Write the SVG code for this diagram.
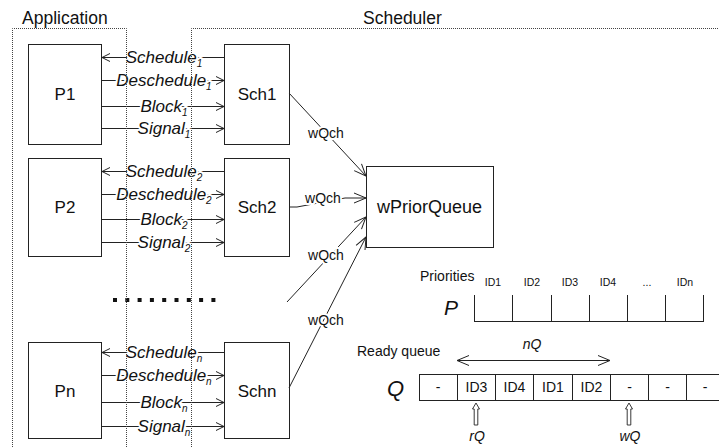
<svg xmlns="http://www.w3.org/2000/svg" width="719" height="448" viewBox="0 0 719 448">
<style>
text{font-family:"Liberation Sans",Arial,sans-serif;fill:#111}
.box{fill:#fff;stroke:#222;stroke-width:1}
.dot{fill:none;stroke:#444;stroke-width:1;stroke-dasharray:1 1}
.ln{fill:none;stroke:#222;stroke-width:1}
.sa{marker-end:url(#a)}
.la{marker-end:url(#b)}
.lbl{font-size:17px;font-style:italic;text-anchor:middle;stroke:#fff;stroke-width:4;paint-order:stroke;stroke-linejoin:round}
.sub{font-size:10px}
.wq{font-size:14px;text-anchor:middle;stroke:#fff;stroke-width:4;paint-order:stroke;stroke-linejoin:round}
.nd{font-size:17px;text-anchor:middle}
.cell{font-size:14px;text-anchor:middle}
.id{font-size:10.5px;text-anchor:middle}
.it{font-style:italic}
</style>
<defs>
<marker id="a" markerUnits="userSpaceOnUse" markerWidth="10" markerHeight="10" refX="8" refY="4" orient="auto-start-reverse" viewBox="-1 -1 10 10"><path d="M0,0 L8,4 L0,8" fill="none" stroke="#222" stroke-width="1"/></marker>
<marker id="b" markerUnits="userSpaceOnUse" markerWidth="14" markerHeight="14" refX="12" refY="5" orient="auto-start-reverse" viewBox="-1 -1 14 12"><path d="M0,0 L12,5 L0,10" fill="none" stroke="#222" stroke-width="1"/></marker>
</defs>
<rect width="719" height="448" fill="#fff"/>

<g id="titles">
<text x="22" y="24" font-size="17.5">Application</text>
<text x="363" y="24" font-size="17.5">Scheduler</text>
</g>

<g id="P1"><rect class="box" x="28.5" y="44.5" width="73" height="100"/><text class="nd" x="65" y="100">P1</text></g>
<g id="Sch1"><rect class="box" x="224.5" y="44.5" width="65" height="100"/><text class="nd" x="257" y="100">Sch1</text></g>
<g id="P2"><rect class="box" x="28.5" y="158.5" width="73" height="98"/><text class="nd" x="65" y="213">P2</text></g>
<g id="Sch2"><rect class="box" x="224.5" y="158.5" width="65" height="98"/><text class="nd" x="257" y="213">Sch2</text></g>
<g id="Pn"><rect class="box" x="28.5" y="342.5" width="73" height="96"/><text class="nd" x="65" y="397">Pn</text></g>
<g id="Schn"><rect class="box" x="224.5" y="342.5" width="65" height="96"/><text class="nd" x="257" y="397">Schn</text></g>
<g id="wPriorQueue"><rect class="box" x="366.5" y="166.5" width="127" height="81"/><text x="429.5" y="213" font-size="18" text-anchor="middle">wPriorQueue</text></g>

<g id="ellipsis" fill="#111">
<rect x="113" y="298" width="4" height="4"/><rect x="125.3" y="298" width="4" height="4"/><rect x="137.6" y="298" width="4" height="4"/><rect x="149.9" y="298" width="4" height="4"/><rect x="162.2" y="298" width="4" height="4"/><rect x="174.5" y="298" width="4" height="4"/><rect x="186.8" y="298" width="4" height="4"/><rect x="199.1" y="298" width="4" height="4"/><rect x="211.4" y="298" width="4" height="4"/>
</g>

<g id="connectors">
<line class="ln sa" x1="224" y1="57.5" x2="102" y2="57.5"/>
<line class="ln sa" x1="102" y1="80.5" x2="224" y2="80.5"/>
<line class="ln sa" x1="102" y1="106.5" x2="224" y2="106.5"/>
<line class="ln sa" x1="102" y1="128.5" x2="224" y2="128.5"/>
<text class="lbl" x="164" y="63">Schedule<tspan class="sub" dy="4">1</tspan></text>
<text class="lbl" x="164" y="86">Deschedule<tspan class="sub" dy="4">1</tspan></text>
<text class="lbl" x="164" y="112">Block<tspan class="sub" dy="4">1</tspan></text>
<text class="lbl" x="164" y="134">Signal<tspan class="sub" dy="4">1</tspan></text>

<line class="ln sa" x1="224" y1="171.5" x2="102" y2="171.5"/>
<line class="ln sa" x1="102" y1="194.5" x2="224" y2="194.5"/>
<line class="ln sa" x1="102" y1="219.5" x2="224" y2="219.5"/>
<line class="ln sa" x1="102" y1="242.5" x2="224" y2="242.5"/>
<text class="lbl" x="164" y="177">Schedule<tspan class="sub" dy="4">2</tspan></text>
<text class="lbl" x="164" y="200">Deschedule<tspan class="sub" dy="4">2</tspan></text>
<text class="lbl" x="164" y="225">Block<tspan class="sub" dy="4">2</tspan></text>
<text class="lbl" x="164" y="248">Signal<tspan class="sub" dy="4">2</tspan></text>

<line class="ln sa" x1="224" y1="352.5" x2="102" y2="352.5"/>
<line class="ln sa" x1="102" y1="375.5" x2="224" y2="375.5"/>
<line class="ln sa" x1="102" y1="402.5" x2="224" y2="402.5"/>
<line class="ln sa" x1="102" y1="426.5" x2="224" y2="426.5"/>
<text class="lbl" x="164" y="358">Schedule<tspan class="sub" dy="4">n</tspan></text>
<text class="lbl" x="164" y="381">Deschedule<tspan class="sub" dy="4">n</tspan></text>
<text class="lbl" x="164" y="408">Block<tspan class="sub" dy="4">n</tspan></text>
<text class="lbl" x="164" y="432">Signal<tspan class="sub" dy="4">n</tspan></text>

<line class="ln la" x1="289" y1="93" x2="366" y2="176"/>
<path class="ln la" d="M289,207 L297,207 L345,198 L366,198"/>
<line class="ln la" x1="287" y1="302" x2="366" y2="217"/>
<line class="ln la" x1="289" y1="388" x2="366" y2="237"/>
<text class="wq" x="326" y="138">wQch</text>
<text class="wq" x="323" y="203">wQch</text>
<text class="wq" x="326" y="260">wQch</text>
<text class="wq" x="326" y="325">wQch</text>
</g>

<g id="priorities">
<text x="420" y="281" font-size="14">Priorities</text>
<text class="id" x="493" y="286">ID1</text>
<text class="id" x="532" y="286">ID2</text>
<text class="id" x="570" y="286">ID3</text>
<text class="id" x="608" y="286">ID4</text>
<text class="id" x="647" y="286">...</text>
<text class="id" x="685" y="286">IDn</text>
<text x="444" y="315" font-size="21" font-style="italic">P</text>
<path class="ln" d="M474.5,295 V321.5 M512.5,295 V321.5 M551.5,295 V321.5 M589.5,295 V321.5 M627.5,295 V321.5 M665.5,295 V321.5 M703.5,295 V321.5 M474,321.5 H704"/>
</g>

<g id="readyqueue">
<text x="357" y="356" font-size="14">Ready queue</text>
<text class="it" x="532" y="349" font-size="14" text-anchor="middle">nQ</text>
<line class="ln" x1="457" y1="360.5" x2="610" y2="360.5" marker-start="url(#b)" marker-end="url(#b)"/>
<text x="387" y="396" font-size="22" font-style="italic">Q</text>
<path class="ln" d="M419,374.5 H719 M419,400.5 H719 M419.5,374 V401 M457.5,374 V401 M495.5,374 V401 M533.5,374 V401 M572.5,374 V401 M610.5,374 V401 M648.5,374 V401 M686.5,374 V401"/>
<text class="cell" x="438" y="392">-</text>
<text class="cell" x="476.5" y="392">ID3</text>
<text class="cell" x="514.5" y="392">ID4</text>
<text class="cell" x="553" y="392">ID1</text>
<text class="cell" x="591.5" y="392">ID2</text>
<text class="cell" x="629.5" y="392">-</text>
<text class="cell" x="667.5" y="392">-</text>
<text class="cell" x="705" y="392">-</text>
</g>

<g id="pointers">
<path d="M476,403 L479.5,409 L477.8,409 L477.8,425 L474.2,425 L474.2,409 L472.5,409 Z" fill="#fff" stroke="#222" stroke-width="0.9"/>
<path d="M629,403 L632.5,409 L630.8,409 L630.8,425 L627.2,425 L627.2,409 L625.5,409 Z" fill="#fff" stroke="#222" stroke-width="0.9"/>
<text class="it" x="477" y="441" font-size="14" text-anchor="middle">rQ</text>
<text class="it" x="630" y="441" font-size="14" text-anchor="middle">wQ</text>
</g>

<g id="boundaries">
<path class="dot" d="M12.5,449 V28.5 H126.5 V449"/>
<path class="dot" d="M191.5,449 V28.5 H720"/>
</g>
</svg>
